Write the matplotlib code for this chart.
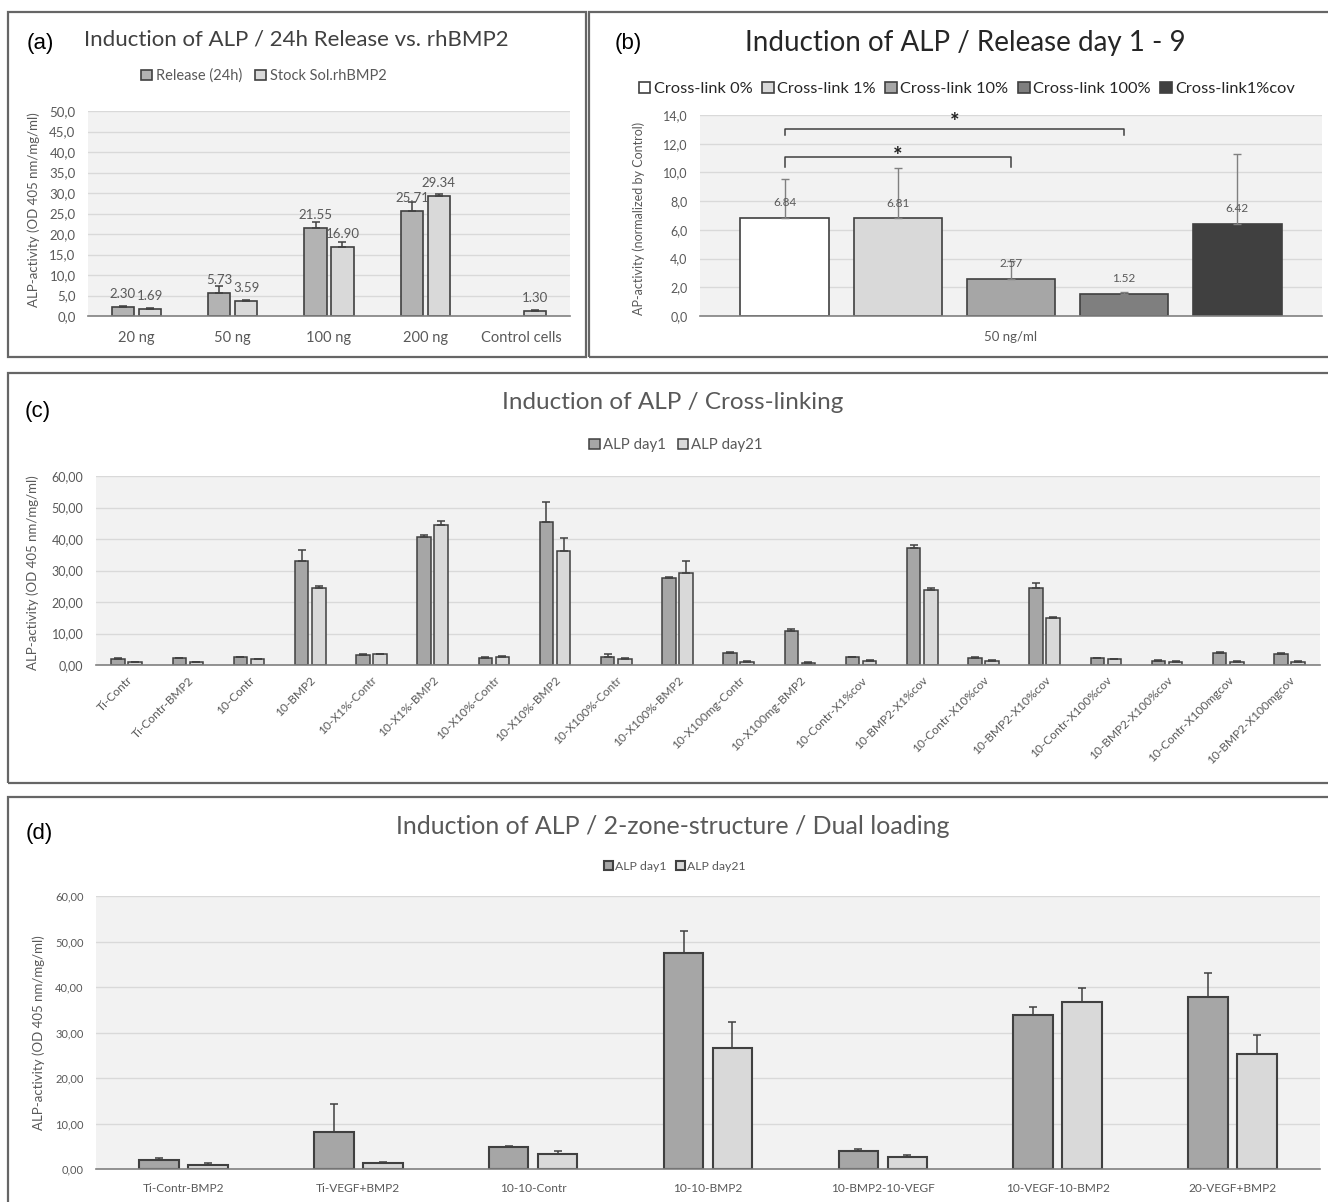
import numpy as np
import matplotlib
matplotlib.use("Agg")
import matplotlib.pyplot as plt
from matplotlib.patches import Rectangle
from matplotlib.ticker import FixedLocator, FuncFormatter

plt.rcParams['font.family'] = ['Lato', 'DejaVu Sans']

# ---- (a) 24h release vs. stock solution ----
a_groups = ["20 ng", "50 ng", "100 ng", "200 ng", "Control cells"]
a_release = [2.30, 5.73, 21.55, 25.71, np.nan]
a_release_err = [0.25, 1.6, 1.4, 2.1, 0.0]
a_stock = [1.69, 3.59, 16.90, 29.34, 1.30]
a_stock_err = [0.2, 0.25, 1.1, 0.5, 0.2]

# ---- (b) release day 1-9, cross-link series ----
b_series = ["Cross-link 0%", "Cross-link 1%", "Cross-link 10%",
            "Cross-link 100%", "Cross-link1%cov"]
b_values = [6.84, 6.81, 2.57, 1.52, 6.42]
b_err = [2.70, 3.48, 1.28, 0.13, 4.84]

# ---- (c) cross-linking ----
c_groups = ["Ti-Contr", "Ti-Contr-BMP2", "10-Contr", "10-BMP2", "10-X1%-Contr",
            "10-X1%-BMP2", "10-X10%-Contr", "10-X10%-BMP2", "10-X100%-Contr",
            "10-X100%-BMP2", "10-X100mg-Contr", "10-X100mg-BMP2",
            "10-Contr-X1%cov", "10-BMP2-X1%cov", "10-Contr-X10%cov",
            "10-BMP2-X10%cov", "10-Contr-X100%cov", "10-BMP2-X100%cov",
            "10-Contr-X100mgcov", "10-BMP2-X100mgcov"]
c_day1 = [1.9, 2.2, 2.5, 32.9, 3.1, 40.6, 2.3, 45.4, 2.5, 27.5,
          3.7, 10.65, 2.5, 37.3, 2.2, 24.3, 2.2, 1.4, 3.7, 3.4]
c_day1_err = [0.2, 0.1, 0.1, 3.7, 0.3, 0.8, 0.1, 6.2, 1.1, 0.3,
              0.3, 0.7, 0.1, 0.8, 0.3, 1.8, 0.1, 0.1, 0.3, 0.3]
c_day21 = [1.05, 1.05, 1.9, 24.5, 3.4, 44.3, 2.6, 36.3, 1.9, 29.3,
           1.05, 0.75, 1.4, 23.8, 1.4, 14.8, 1.9, 1.05, 1.05, 1.05]
c_day21_err = [0.05, 0.05, 0.1, 0.7, 0.2, 1.5, 0.4, 3.9, 0.2, 3.6,
               0.1, 0.1, 0.1, 0.6, 0.1, 0.3, 0.1, 0.1, 0.3, 0.1]

# ---- (d) 2-zone structure / dual loading ----
d_groups = ["Ti-Contr-BMP2", "Ti-VEGF+BMP2", "10-10-Contr", "10-10-BMP2",
            "10-BMP2-10-VEGF", "10-VEGF-10-BMP2", "20-VEGF+BMP2"]
d_day1 = [2.05, 8.1, 4.8, 47.4, 4.0, 33.9, 37.7]
d_day1_err = [0.3, 6.1, 0.2, 5.0, 0.5, 1.6, 5.4]
d_day21 = [0.95, 1.25, 3.3, 26.5, 2.7, 36.7, 25.3]
d_day21_err = [0.3, 0.25, 0.6, 5.7, 0.4, 3.1, 4.1]

W, H = 1328, 1202
fig = plt.figure(figsize=(W / 100, H / 100), dpi=100)
fig.patch.set_facecolor("white")

TXT = "#595959"
EDGE = "#404040"
BG = "#f2f2f2"
GRID = "#d9d9d9"


def fx(x):
    return x / W


def fy(y):
    return 1 - y / H


def px_axes(left, top, right, bottom):
    return fig.add_axes([fx(left), fy(bottom), (right - left) / W, (bottom - top) / H])


def frame(left, top, right, bottom):
    fig.patches.append(Rectangle((fx(left), fy(bottom)), (right - left) / W,
                                 (bottom - top) / H, transform=fig.transFigure,
                                 fill=False, edgecolor="#666666", lw=1.6))


def style(ax, ymax, step, fmt, ysize):
    ax.set_facecolor(BG)
    ax.set_ylim(0, ymax)
    ax.yaxis.set_major_locator(FixedLocator(np.arange(0, ymax + step / 2, step)))
    ax.yaxis.set_major_formatter(FuncFormatter(lambda v, p: fmt.format(v).replace(".", ",")))
    ax.grid(axis="y", color=GRID, lw=1.0)
    ax.set_axisbelow(True)
    for s in ("top", "right", "left"):
        ax.spines[s].set_visible(False)
    ax.spines["bottom"].set_color("#808080")
    ax.spines["bottom"].set_linewidth(1.2)
    ax.tick_params(axis="both", length=0, colors=TXT)
    ax.tick_params(axis="y", labelsize=ysize, pad=9)


def upper(err):
    err = np.asarray(err, dtype=float)
    return np.vstack([np.zeros_like(err), err])


ekw = dict(ecolor=EDGE, elinewidth=1.1, capsize=3, capthick=1.1)

# ================= (a) =================
frame(8, 12, 586, 357)
ax = px_axes(88, 111, 570, 316)
style(ax, 50, 5, "{:.1f}", 9.5)
xa = np.arange(len(a_groups))
rel = np.array(a_release)
ok = ~np.isnan(rel)
b1 = ax.bar(xa[ok] - 0.14, rel[ok], 0.23, color="#b3b3b3", edgecolor=EDGE, lw=1.2,
            yerr=upper(np.array(a_release_err)[ok]), error_kw=ekw, label="Release (24h)")
b2 = ax.bar(xa + 0.14, a_stock, 0.23, color="#d9d9d9", edgecolor=EDGE, lw=1.2,
            yerr=upper(a_stock_err), error_kw=ekw, label="Stock Sol.rhBMP2")
for x, v in zip(xa[ok] - 0.14, rel[ok]):
    ax.annotate(f"{v:.2f}", (x, v), xytext=(0, 5), textcoords="offset points",
                ha="center", va="bottom", fontsize=9.5, color=TXT)
for x, v in zip(xa + 0.14, a_stock):
    ax.annotate(f"{v:.2f}", (x, v), xytext=(0, 5), textcoords="offset points",
                ha="center", va="bottom", fontsize=9.5, color=TXT)
ax.set_xlim(-0.5, len(a_groups) - 0.5)
ax.set_xticks(xa)
ax.set_xticklabels(a_groups, fontsize=10.5)
ax.tick_params(axis="x", pad=11)
ax.legend(handles=[b1, b2], loc="center", bbox_to_anchor=(fx(264), fy(76)),
          bbox_transform=fig.transFigure, ncol=2, frameon=False, fontsize=10.5,
          handlelength=0.7, handleheight=0.7, handletextpad=0.3, columnspacing=0.9,
          labelcolor=TXT)
fig.text(fx(34), fy(210), "ALP-activity (OD 405 nm/mg/ml)", rotation=90,
         ha="center", va="center", fontsize=9.5, color=TXT)
fig.text(fx(296), fy(39), "Induction of ALP / 24h Release vs. rhBMP2",
         ha="center", va="center", fontsize=16, color="#404040")
fig.text(fx(40), fy(44), "(a)", ha="center", va="center", fontsize=16,
         family=["Liberation Sans", "DejaVu Sans"], color="black")

# ================= (b) =================
frame(589, 12, 1340, 357)
ax = px_axes(700, 115, 1322, 316)
style(ax, 14, 2, "{:.1f}", 9)
b_colors = ["#ffffff", "#d9d9d9", "#a6a6a6", "#7f7f7f", "#404040"]
b_off = np.array([-2, -1, 0, 1, 2]) * 0.1817
handles = []
for i, (name, v, e, c) in enumerate(zip(b_series, b_values, b_err, b_colors)):
    h = ax.bar(b_off[i], v, 0.143, color=c, edgecolor=EDGE, lw=1.2, label=name,
               yerr=[[0], [e]], error_kw=dict(ecolor="#808080", elinewidth=1.0,
                                             capsize=3, capthick=1.0))
    handles.append(h)
    ax.annotate(f"{v:.2f}", (b_off[i], v), xytext=(0, 7), textcoords="offset points",
                ha="center", va="bottom", fontsize=8.5, color=TXT)
ax.set_xlim(-0.5, 0.5)
ax.set_xticks([0])
ax.set_xticklabels(["50 ng/ml"], fontsize=9.5)
ax.tick_params(axis="x", pad=11)
# significance brackets
ax.plot([b_off[0], b_off[0], b_off[2], b_off[2]], [10.4, 11.1, 11.1, 10.4],
        color="#404040", lw=1.1)
ax.plot([b_off[0], b_off[0], b_off[3], b_off[3]], [12.6, 13.0, 13.0, 12.6],
        color="#404040", lw=1.1)
ax.text((b_off[0] + b_off[2]) / 2, 10.35, "*", ha="center", va="bottom",
        fontsize=16, fontweight="bold", color="#222222")
ax.text((b_off[0] + b_off[3]) / 2, 12.75, "*", ha="center", va="bottom",
        fontsize=16, fontweight="bold", color="#222222")
ax.legend(handles=handles, loc="center", bbox_to_anchor=(fx(967), fy(89)),
          bbox_transform=fig.transFigure, ncol=5, frameon=False, fontsize=11.8,
          handlelength=0.7, handleheight=0.7, handletextpad=0.2, columnspacing=0.6,
          labelcolor="#262626")
fig.text(fx(639), fy(218), "AP-activity (normalized by Control)", rotation=90,
         ha="center", va="center", fontsize=9, color=TXT)
fig.text(fx(965), fy(43), "Induction of ALP / Release day 1 - 9",
         ha="center", va="center", fontsize=20, color="#262626")
fig.text(fx(628), fy(44), "(b)", ha="center", va="center", fontsize=16,
         family=["Liberation Sans", "DejaVu Sans"], color="black")

# ================= (c) =================
frame(8, 373, 1340, 783)
ax = px_axes(96, 476, 1320, 665)
style(ax, 60, 10, "{:.2f}", 9)
xc = np.arange(len(c_groups))
h1 = ax.bar(xc - 0.14, c_day1, 0.22, color="#a6a6a6", edgecolor=EDGE, lw=1.1,
            yerr=upper(c_day1_err), error_kw=ekw, label="ALP day1")
h2 = ax.bar(xc + 0.14, c_day21, 0.22, color="#d9d9d9", edgecolor=EDGE, lw=1.1,
            yerr=upper(c_day21_err), error_kw=ekw, label="ALP day21")
ax.set_xlim(-0.5, len(c_groups) - 0.5)
ax.set_xticks(xc)
ax.set_xticklabels(c_groups, rotation=45, ha="right", rotation_mode="anchor",
                   fontsize=8.6)
ax.tick_params(axis="x", pad=7)
ax.legend(handles=[h1, h2], loc="center", bbox_to_anchor=(fx(676), fy(445)),
          bbox_transform=fig.transFigure, ncol=2, frameon=False, fontsize=10.8,
          handlelength=0.7, handleheight=0.7, handletextpad=0.2, columnspacing=0.8,
          labelcolor=TXT)
fig.text(fx(33), fy(573), "ALP-activity (OD 405 nm/mg/ml)", rotation=90,
         ha="center", va="center", fontsize=9.5, color=TXT)
fig.text(fx(673), fy(403), "Induction of ALP / Cross-linking",
         ha="center", va="center", fontsize=17.5, color=TXT)
fig.text(fx(38), fy(412), "(c)", ha="center", va="center", fontsize=16,
         family=["Liberation Sans", "DejaVu Sans"], color="black")

# ================= (d) =================
frame(8, 797, 1340, 1230)
ax = px_axes(96, 896, 1320, 1169)
style(ax, 60, 10, "{:.2f}", 8)
xd = np.arange(len(d_groups))
g1 = ax.bar(xd - 0.14, d_day1, 0.226, color="#a6a6a6", edgecolor=EDGE, lw=1.5,
            yerr=upper(d_day1_err), error_kw=ekw, label="ALP day1")
g2 = ax.bar(xd + 0.14, d_day21, 0.226, color="#d9d9d9", edgecolor=EDGE, lw=1.5,
            yerr=upper(d_day21_err), error_kw=ekw, label="ALP day21")
ax.set_xlim(-0.5, len(d_groups) - 0.5)
ax.set_xticks(xd)
ax.set_xticklabels(d_groups, fontsize=8.6)
ax.tick_params(axis="x", pad=10)
ax.legend(handles=[g1, g2], loc="center", bbox_to_anchor=(fx(675), fy(866)),
          bbox_transform=fig.transFigure, ncol=2, frameon=False, fontsize=8.8,
          handlelength=0.7, handleheight=0.7, handletextpad=0.2, columnspacing=0.8,
          labelcolor=TXT)
fig.text(fx(39), fy(1033), "ALP-activity (OD 405 nm/mg/ml)", rotation=90,
         ha="center", va="center", fontsize=9.5, color=TXT)
fig.text(fx(673), fy(826), "Induction of ALP / 2-zone-structure / Dual loading",
         ha="center", va="center", fontsize=18, color=TXT)
fig.text(fx(39), fy(834), "(d)", ha="center", va="center", fontsize=16,
         family=["Liberation Sans", "DejaVu Sans"], color="black")

fig.savefig("out.png", dpi=100)
